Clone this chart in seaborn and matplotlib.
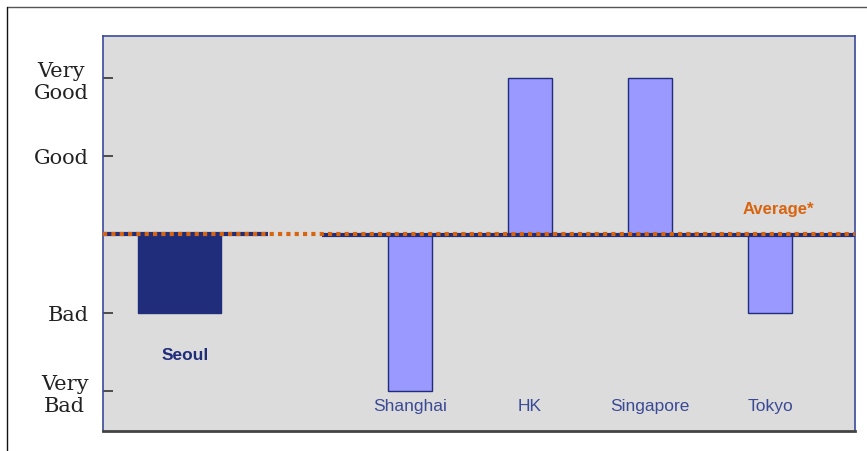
import matplotlib
matplotlib.use("Agg")
import matplotlib.pyplot as plt
from matplotlib.lines import Line2D
import seaborn as sns
import pandas as pd

# Ratings relative to the regional average (0 = average)
peer_cities = ["Shanghai", "HK", "Singapore", "Tokyo"]
peer_scores = [-2, 2, 2, -1]
peer_positions = [2.5, 3.5, 4.5, 5.5]

home_city = "Seoul"
home_score = -1
home_position = 0.58

rating_levels = [2, 1, -1, -2]
rating_labels = ["Very\nGood", "Good", "Bad", "Very\nBad"]

average_label = "Average*"

sns.set_style("white")
plt.rcParams["font.family"] = ["Liberation Sans", "DejaVu Sans"]

navy = "#1f2d7a"
light_blue = "#9999ff"
orange = "#d9640f"
label_blue = "#3b4a95"

fig = plt.figure(figsize=(8.67, 4.52), dpi=100)
fig.patch.set_facecolor("white")
ax = fig.add_axes([103 / 867, 1 - 432 / 452, 752 / 867, 395 / 452])
ax.set_facecolor("#dcdcdc")

peers = pd.DataFrame({"pos": peer_positions, "score": peer_scores, "city": peer_cities})
home = pd.DataFrame({"pos": [home_position], "score": [home_score], "city": [home_city]})

sns.barplot(data=peers, x="pos", y="score", native_scale=True, orient="x",
            width=0.37, color=light_blue, saturation=1, edgecolor=navy,
            linewidth=1, errorbar=None, ax=ax)
sns.barplot(data=home, x="pos", y="score", native_scale=True, orient="x",
            width=0.69, color=navy, saturation=1, edgecolor=navy,
            linewidth=1, errorbar=None, ax=ax)

ax.set_xlim(-0.058, 6.208)
ax.set_ylim(-2.51, 2.53)

# Baseline segments and the dotted average line on top
ax.plot([-0.058, 1.317], [0, 0], color=navy, lw=3, solid_capstyle="butt", zorder=4)
ax.plot([1.767, 6.208], [-0.01, -0.01], color=navy, lw=3, solid_capstyle="butt", zorder=4)
ax.plot([-0.058, 6.208], [0.01, 0.01], color=orange, lw=3,
        linestyle=(0, (1, 1)), dash_capstyle="butt", zorder=5)

ax.text(5.57, 0.33, average_label, color=orange, fontsize=12, fontweight="bold",
        ha="center", va="center", zorder=6)

for pos, city in zip(peer_positions, peer_cities):
    ax.text(pos, -2.19, city, color=label_blue, fontsize=12.5,
            ha="center", va="center")
ax.text(home_position + 0.05, -1.53, home_city, color=navy, fontsize=12.5,
        fontweight="bold", ha="center", va="center")

ax.set_xticks([])
ax.set_xlabel("")
ax.set_ylabel("")
ax.set_yticks(rating_levels)
ax.set_yticklabels(rating_labels, family="DejaVu Serif", fontsize=15,
                   multialignment="center", color="#222222")
ax.tick_params(axis="y", direction="in", length=7, width=1.2, color="#333333",
               pad=10.5, left=True)

for side in ["left", "top", "right"]:
    ax.spines[side].set_color("#3a4a9a")
    ax.spines[side].set_linewidth(1.2)
ax.spines["bottom"].set_color("#444444")
ax.spines["bottom"].set_linewidth(2)

# Outer frame lines
fig.add_artist(Line2D([7 / 867, 1], [1 - 8 / 452, 1 - 8 / 452],
                      transform=fig.transFigure, color="#555555", lw=1))
fig.add_artist(Line2D([7 / 867, 7 / 867], [0, 1 - 8 / 452],
                      transform=fig.transFigure, color="#111111", lw=1))

fig.savefig("out.png", dpi=100)
